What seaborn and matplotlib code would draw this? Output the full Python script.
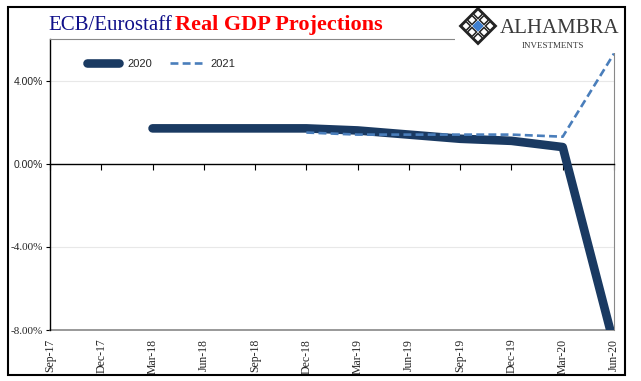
import numpy as np
import pandas as pd
import seaborn as sns
import matplotlib.pyplot as plt
from matplotlib.patches import Rectangle, Polygon

# quarterly vintages of the projections
quarters = ['Sep-17', 'Dec-17', 'Mar-18', 'Jun-18', 'Sep-18', 'Dec-18',
            'Mar-19', 'Jun-19', 'Sep-19', 'Dec-19', 'Mar-20', 'Jun-20']
gdp_2020 = [np.nan, np.nan, 1.7, 1.7, 1.7, 1.7, 1.6, 1.4, 1.2, 1.1, 0.8, -8.7]
gdp_2021 = [np.nan, np.nan, np.nan, np.nan, np.nan, 1.5, 1.4, 1.4, 1.4, 1.4, 1.3, 5.3]
y_ticks = [-8, -4, 0, 4]

df = pd.DataFrame({'pos': np.arange(len(quarters)), '2020': gdp_2020, '2021': gdp_2021})

sns.set_style('white')
fig = plt.figure(figsize=(6.41, 3.81), dpi=100)
ax = fig.add_axes([50 / 641, 1 - 330 / 381, 564 / 641, 291 / 381])

sns.lineplot(data=df, x='pos', y='2020', ax=ax, color='#1a3a62', lw=6.2,
             solid_capstyle='round', label='2020', zorder=3)
sns.lineplot(data=df, x='pos', y='2021', ax=ax, color='#4a7ebb', lw=1.9,
             dashes=(3, 1.6), label='2021', zorder=4)

ax.set_xlim(0, len(quarters) - 1)
ax.set_ylim(-8, 6)
ax.set_xlabel('')
ax.set_ylabel('')

# y axis
ax.set_yticks(y_ticks)
ax.set_yticklabels([f'{v:.2f}%' for v in y_ticks])
for lab, v in zip(ax.get_yticklabels(), y_ticks):
    if v < 0:
        lab.set_family('Liberation Serif')
        lab.set_fontsize(8)
    else:
        lab.set_family('Liberation Sans')
        lab.set_fontsize(7.5)
ax.tick_params(axis='y', left=True, length=3, width=0.8, color='black', pad=2)
for v in y_ticks:
    if v != 0:
        ax.axhline(v, color='#e8e8e8', lw=0.8, zorder=0)

# x axis crosses at zero, labels sit at the bottom
ax.spines['bottom'].set_position(('data', 0))
ax.spines['bottom'].set_color('black')
ax.spines['bottom'].set_linewidth(1.0)
ax.set_xticks(df['pos'])
ax.set_xticklabels(quarters, rotation=90, family='Liberation Serif', fontsize=8.5)
ax.tick_params(axis='x', bottom=True, direction='out', length=4, width=0.8,
               color='black', pad=122)
for lab in ax.get_xticklabels():
    lab.set_verticalalignment('top')

ax.spines['left'].set_color('black')
ax.spines['left'].set_linewidth(1.0)
ax.spines['right'].set_color('#888888')
ax.spines['top'].set_color('#888888')
ax.axhline(-8, color='#888888', lw=1.2, zorder=1, clip_on=False)

leg = ax.legend(ncol=2, frameon=False, loc='center left', bbox_to_anchor=(0.065, 0.914),
                borderpad=0, borderaxespad=0, handlelength=2.9, handletextpad=0.75,
                columnspacing=1.6, prop={'family': 'Liberation Sans', 'size': 8})

# title
fig.text(48 / 641, 1 - 30 / 381, 'ECB/Eurostaff', color='#10108a', fontsize=15,
         family='Liberation Serif', va='baseline')
fig.text(175 / 641, 1 - 30 / 381, 'Real GDP Projections', color='#ff0000', fontsize=16,
         family='Liberation Serif', weight='bold', va='baseline')

# logo block with white background
lax = fig.add_axes([455 / 641, 1 - 53 / 381, 169 / 641, 46 / 381])
lax.set_xlim(455, 624)
lax.set_ylim(53, 7)
lax.axis('off')
lax.add_patch(Rectangle((455, 7), 169, 46, color='white', zorder=0))
cx, cy, r = 478, 26, 18


def diamond(x, y, h, **kw):
    return Polygon([(x, y - h), (x + h, y), (x, y + h), (x - h, y)], closed=True, **kw)


lax.add_patch(diamond(cx, cy, r, fill=False, ec='#222222', lw=1.5))
step = r / 3
for i in (-1, 0, 1):
    for j in (-1, 0, 1):
        px = cx + (i - j) * step
        py = cy + (i + j) * step
        if i == 0 and j == 0:
            lax.add_patch(diamond(px, py, step * 0.8, color='#3f7fd0'))
        else:
            lax.add_patch(diamond(px, py, step * 0.75, fill=False, ec='#222222', lw=1.1))
lax.text(500, 33, 'ALHAMBRA', color='#3a3a3a', fontsize=15, family='Liberation Serif',
         va='baseline', ha='left')
lax.text(553, 48, 'INVESTMENTS', color='#3a3a3a', fontsize=6.5, family='Liberation Serif',
         va='baseline', ha='center')

# outer frame
fig.patches.append(Rectangle((8 / 641, 1 - 375 / 381), 617 / 641, 368 / 381,
                             transform=fig.transFigure, fill=False, ec='black', lw=1.5))

fig.savefig('out.png', dpi=100)
